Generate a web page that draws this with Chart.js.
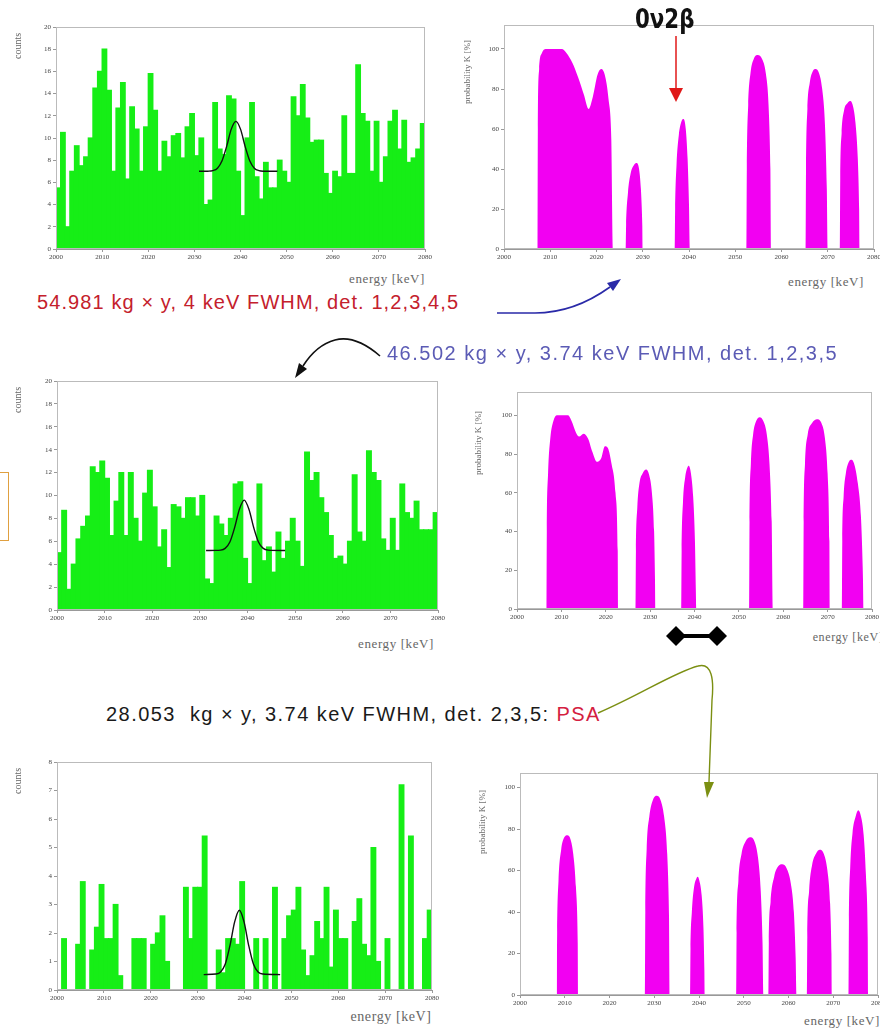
<!DOCTYPE html>
<html>
<head>
<meta charset="utf-8">
<script src="https://cdn.jsdelivr.net/npm/chart.js@4"></script>
<style>
body { margin:0; background:#fff; width:880px; height:1029px; overflow:hidden; position:relative; font-family:"Liberation Sans", Arial, sans-serif; }
canvas { position:absolute; }
.t { position:absolute; white-space:nowrap; }
.ax { position:absolute; white-space:nowrap; font-family:"Liberation Serif", serif; color:#666; transform:translate(-50%,-50%); }
.en { font-size:13px; letter-spacing:0.6px; }
.rot { transform:translate(-50%,-50%) rotate(-90deg); }
.note { position:absolute; white-space:nowrap; font-size:20px; letter-spacing:1.1px; }
</style>
</head>
<body>
<canvas id="h1"></canvas>
<canvas id="k1"></canvas>
<canvas id="h2"></canvas>
<canvas id="k2"></canvas>
<canvas id="h3"></canvas>
<canvas id="k3"></canvas>

<div class="ax rot" style="left:17px;top:46px;font-size:10px">counts</div>
<div class="ax rot" style="left:17px;top:400px;font-size:10px">counts</div>
<div class="ax rot" style="left:17px;top:781px;font-size:10px">counts</div>
<div class="ax rot" style="left:467px;top:72px;font-size:9px">probability K [%]</div>
<div class="ax rot" style="left:478px;top:443px;font-size:9px">probability K [%]</div>
<div class="ax rot" style="left:482px;top:822px;font-size:9px">probability K [%]</div>
<div class="ax en" style="left:387px;top:279px">energy [keV]</div>
<div class="ax en" style="left:826px;top:282px">energy [keV]</div>
<div class="ax en" style="left:396px;top:644px">energy [keV]</div>
<div class="ax en" style="left:848px;top:637px;font-size:12px">energy [keV]</div>
<div class="ax en" style="left:391px;top:1017px;font-size:14px">energy [keV]</div>
<div class="ax en" style="left:842px;top:1021px">energy [keV]</div>

<div class="t" style="left:635px;top:4px;font:bold 26px 'DejaVu Sans';color:#111;transform:scaleX(0.82);transform-origin:left top">0ν2β</div>
<div class="note" style="left:37px;top:291px;color:#c4202c">54.981 kg × y, 4 keV FWHM, det. 1,2,3,4,5</div>
<div class="note" style="left:387px;top:342px;color:#5b5bb5;letter-spacing:1.5px">46.502 kg × y, 3.74 keV FWHM, det. 1,2,3,5</div>
<div class="note" style="left:106px;top:703px;color:#1a1a1a;letter-spacing:1.45px">28.053&nbsp; kg × y, 3.74 keV FWHM, det. 2,3,5: <span style="color:#d42040">PSA</span></div>
<div style="position:absolute;left:0;top:472px;width:8px;height:67px;border:1.5px solid #e0a040;border-left:none"></div>

<svg width="880" height="1029" style="position:absolute;left:0;top:0;pointer-events:none">
  <line x1="676" y1="36" x2="676" y2="90" stroke="#e01818" stroke-width="1.5"/>
  <polygon points="669,88 683,88 676,102" fill="#e01818"/>
  <path d="M497,313 L535,313 C560,313 585,305 610,287" stroke="#2a2aa8" stroke-width="1.6" fill="none"/>
  <polygon points="621,279 613,291 607,283" fill="#2a2aa8"/>
  <path d="M380,356 C365,343 350,336 335,340 C320,344 310,355 303,366" stroke="#111" stroke-width="1.6" fill="none"/>
  <polygon points="295,378 307,369 299,363" fill="#111"/>
  <path d="M598,713 C640,695 675,672 698,666 C712,662 714,680 712,700 L709,782" stroke="#7b8f12" stroke-width="1.4" fill="none"/>
  <polygon points="704,782 714,782 707,798" fill="#7b8f12"/>
  <line x1="676" y1="636" x2="717" y2="636" stroke="#000" stroke-width="4"/>
  <polygon points="666,636 676,626 686,636 676,646" fill="#000"/>
  <polygon points="707,636 717,626 727,636 717,646" fill="#000"/>
</svg>

<script>
// energy binning of the spectra (1 keV bins, 2000..2080 keV)
var eStart = 2000;
var eEnd = 2080;
var tickE = [2000, 2010, 2020, 2030, 2040, 2050, 2060, 2070, 2080];

// spectrum counts per bin, 54.981 kg y
var counts1 = [5.5, 10.5, 2, 7, 9.3, 7.5, 8.3, 10, 14.5, 16,
  18, 14.3, 7, 12.7, 15, 6.3, 12.8, 10.8, 7, 11,
  15.8, 12.5, 7, 9.7, 8.3, 10.2, 10.4, 8.2, 11, 12.2,
  8.4, 10, 4, 4.4, 13.2, 9, 8.5, 13.8, 13.5, 7,
  3, 10, 13.2, 6.5, 4.5, 7.8, 5.5, 5.5, 8, 7,
  6, 13.7, 12, 14.8, 11.8, 9.6, 9.8, 9.8, 6.8, 5,
  7, 6.5, 12, 6.8, 6.8, 16.6, 12.2, 11.5, 7, 11.5,
  6, 8.3, 11.5, 12.5, 9, 11.6, 7.8, 8.2, 9, 11.3];
// 46.502 kg y
var counts2 = [5, 8.7, 1.8, 4, 6.2, 7.3, 8.2, 12.5, 12, 13,
  11.5, 6.5, 9.5, 12, 6.5, 12, 8, 6, 10.2, 12.2,
  9, 5.5, 7, 3.7, 9.2, 9, 8, 9.8, 9.8, 8.2,
  10, 2.7, 2.3, 8.2, 7.5, 6.5, 8, 11, 11.2, 4.5,
  2.3, 6, 11, 4.3, 5.5, 3.3, 6.8, 4.5, 6, 8,
  6, 3.8, 13.8, 11.3, 12, 9.8, 8.5, 6.5, 4.5, 4.7,
  4, 6, 11.8, 6.8, 6, 13.9, 12, 11.3, 6.2, 5.2,
  8, 5.2, 11, 8.5, 8, 9.5, 7, 7, 7, 8.5];
// 28.053 kg y, PSA
var counts3 = [0, 1.8, 0, 0, 1.6, 3.8, 0, 1.4, 2.2, 3.7,
  1.8, 1.8, 3.0, 0.5, 0, 0, 1.8, 1.8, 1.8, 0,
  1.6, 2, 2.6, 1, 0, 0, 0, 3.6, 1.8, 3.6,
  3.6, 5.4, 0, 0, 1.4, 0.6, 1.8, 1.8, 1.6, 3.8,
  0, 0, 1.8, 0, 1.8, 0, 3.6, 0, 1.8, 2.6,
  2.8, 3.6, 1.4, 0.5, 1.2, 2.4, 1.8, 3.6, 0.8, 2.8,
  1.8, 1.8, 0, 2.4, 3.2, 1.6, 1.2, 5, 1, 0,
  1.8, 0, 0, 7.2, 0, 5.4, 0, 0, 1.8, 2.8];

// fitted line (background + peak)
var fitE1 = [2031, 2033, 2034, 2035, 2036, 2037, 2038, 2039, 2040, 2041, 2042, 2043, 2044, 2045, 2048];
var fitC1 = [7, 7.01, 7.06, 7.28, 7.95, 9.25, 10.8, 11.5, 10.8, 9.25, 7.95, 7.28, 7.06, 7.01, 7];
var fitE2 = [2031.3, 2033.3, 2034.3, 2035.3, 2036.3, 2037.3, 2038.3, 2039.3, 2040.3, 2041.3, 2042.3, 2043.3, 2044.3, 2047.9];
var fitC2 = [5.2, 5.21, 5.23, 5.38, 5.94, 7.2, 8.8, 9.6, 8.8, 7.2, 5.94, 5.38, 5.23, 5.2];
var fitE3 = [2031.3, 2033.9, 2034.9, 2035.9, 2036.9, 2037.9, 2038.9, 2039.9, 2040.9, 2041.9, 2042.9, 2043.9, 2047.6];
var fitC3 = [0.54, 0.56, 0.63, 0.91, 1.56, 2.39, 2.8, 2.39, 1.56, 0.91, 0.63, 0.56, 0.54];

// probability K [%] vs energy
var probE1 = [2007.2, 2007.3, 2007.6, 2008.2, 2009, 2012.5, 2013.5, 2014.8, 2016, 2017.3, 2018.3, 2019.2, 2020.2, 2021, 2021.8, 2022.6, 2023.2, 2023.6,
  2026.3, 2026.4, 2026.8, 2027.4, 2028.1, 2028.6, 2029.2, 2029.6, 2029.9, 2030.0,
  2036.9, 2037.0, 2037.3, 2037.8, 2038.4, 2038.8, 2039.3, 2039.7, 2040.0, 2040.2,
  2052.4, 2052.5, 2052.8, 2053.3, 2054.0, 2054.9, 2055.8, 2056.6, 2057.2, 2057.6, 2057.8,
  2065.2, 2065.3, 2065.6, 2066.1, 2066.8, 2067.4, 2068.1, 2068.8, 2069.4, 2069.8, 2070.0,
  2072.6, 2072.7, 2073.0, 2073.5, 2074.3, 2074.9, 2075.5, 2076.0, 2076.5, 2076.8, 2076.9];
var probK1 = [0, 60, 90, 98, 100, 100, 98, 93, 86, 77, 70, 76, 87, 90, 87, 75, 55, 0,
  0, 12, 28, 38, 42, 43, 40, 30, 12, 0,
  0, 20, 42, 57, 64, 65, 60, 45, 22, 0,
  0, 40, 72, 88, 95, 97, 95, 88, 72, 40, 0,
  0, 40, 70, 83, 89, 90, 88, 80, 62, 30, 0,
  0, 35, 58, 69, 73, 74, 71, 63, 45, 20, 0];

var probE2 = [2006.6, 2006.7, 2007.0, 2007.5, 2008.2, 2009, 2011.5, 2012.3, 2013.3, 2014.0, 2015, 2016, 2017, 2018, 2019, 2019.8, 2020.5, 2021.3, 2022.2, 2022.7, 2022.8,
  2026.7, 2026.8, 2027.1, 2027.6, 2028.3, 2029.1, 2029.8, 2030.4, 2030.9, 2031.1, 2031.2,
  2037.0, 2037.1, 2037.4, 2037.9, 2038.4, 2038.7, 2039.2, 2039.7, 2040.1, 2040.3, 2040.4,
  2052.3, 2052.4, 2052.7, 2053.2, 2053.9, 2054.7, 2055.5, 2056.3, 2056.9, 2057.4, 2057.7,
  2064.5, 2064.6, 2064.9, 2065.5, 2066.5, 2067.6, 2068.6, 2069.4, 2070.0, 2070.4, 2070.5,
  2073.2, 2073.3, 2073.6, 2074.1, 2074.8, 2075.4, 2076.1, 2076.8, 2077.5, 2077.9, 2078.1];
var probK2 = [0, 40, 70, 88, 97, 100, 100, 97, 91, 89, 90.5, 88, 81, 76, 78, 84, 83, 75, 60, 30, 0,
  0, 30, 52, 65, 70, 72, 69, 60, 40, 15, 0,
  0, 30, 55, 68, 73, 74, 70, 58, 35, 10, 0,
  0, 45, 75, 90, 97, 99, 97, 90, 75, 45, 0,
  0, 45, 75, 90, 96, 98, 96, 88, 70, 35, 0,
  0, 35, 58, 70, 76, 77, 74, 65, 48, 22, 0];

var probE3 = [2008.2, 2008.3, 2008.6, 2009.2, 2009.9, 2010.6, 2011.3, 2011.9, 2012.5, 2012.9, 2013.0,
  2027.9, 2028.0, 2028.3, 2028.9, 2029.7, 2030.6, 2031.4, 2032.2, 2032.9, 2033.3, 2033.5,
  2038.0, 2038.1, 2038.4, 2038.9, 2039.4, 2039.7, 2040.1, 2040.6, 2041.0, 2041.2, 2041.3,
  2048.3, 2048.4, 2048.8, 2049.5, 2050.4, 2051.4, 2052.4, 2053.2, 2053.8, 2054.2, 2054.4,
  2055.5, 2055.6, 2056.0, 2056.8, 2057.7, 2058.6, 2059.6, 2060.5, 2061.2, 2061.6, 2061.8,
  2064.1, 2064.2, 2064.6, 2065.3, 2066.1, 2067.0, 2067.9, 2068.7, 2069.3, 2069.6, 2069.7,
  2073.4, 2073.5, 2073.8, 2074.3, 2075.0, 2075.6, 2076.2, 2076.8, 2077.3, 2077.7, 2077.8];
var probK3 = [0, 30, 55, 70, 76, 77, 75, 68, 52, 25, 0,
  0, 40, 70, 86, 94, 96, 94, 86, 68, 38, 0,
  0, 22, 40, 52, 56, 57, 55, 48, 32, 12, 0,
  0, 30, 55, 68, 74, 76, 74, 66, 50, 25, 0,
  0, 25, 45, 57, 62, 63, 61, 54, 40, 18, 0,
  0, 28, 50, 63, 68, 70, 68, 60, 44, 20, 0,
  0, 35, 62, 78, 86, 89, 86, 77, 58, 28, 0];

var YW = 36, PT = 8, PR = 14, XH = 18;

var framePlugin = {
  id: 'frame',
  afterDatasetsDraw: function (chart) {
    var a = chart.chartArea, c = chart.ctx;
    c.save();
    c.strokeStyle = '#bbb';
    c.lineWidth = 1;
    c.strokeRect(a.left + 0.5, a.top + 0.5, a.width - 1, a.height - 1);
    c.restore();
  }
};

function placeCanvas(id, box) {
  var cv = document.getElementById(id);
  cv.width = (box[2] - box[0]) + YW + PR;
  cv.height = (box[3] - box[1]) + PT + XH;
  cv.style.left = (box[0] - YW) + 'px';
  cv.style.top = (box[1] - PT) + 'px';
  return cv;
}

function axes(yMax, yStep, yLimit) {
  var tickFont = { family: 'Liberation Serif', size: 7 };
  return {
    x: {
      type: 'linear', min: eStart, max: eEnd, offset: false,
      afterBuildTicks: function (s) { s.ticks = tickE.map(function (v) { return { value: v }; }); },
      ticks: { font: tickFont, color: '#444', maxRotation: 0, autoSkip: false, padding: 1,
        callback: function (v) { return String(v); } },
      grid: { drawOnChartArea: false, tickLength: 3, color: '#999', offset: false },
      border: { color: '#999' },
      afterFit: function (s) { s.height = XH; s.paddingLeft = 0; s.paddingRight = 0; }
    },
    y: {
      min: 0, max: yMax,
      afterBuildTicks: function (s) { s.ticks = s.ticks.filter(function (t) { return t.value <= yLimit + 1e-9; }); },
      ticks: { stepSize: yStep, font: tickFont, color: '#444', padding: 2 },
      grid: { drawOnChartArea: false, tickLength: 3, color: '#999' },
      border: { color: '#999' },
      afterFit: function (s) { s.width = YW; s.paddingTop = 0; s.paddingBottom = 0; }
    }
  };
}

function histChart(id, box, counts, fitE, fitC, yMax, yStep) {
  var cv = placeCanvas(id, box);
  new Chart(cv.getContext('2d'), {
    data: {
      datasets: [{
        type: 'line',
        data: fitE.map(function (e, i) { return { x: e, y: fitC[i] }; }),
        borderColor: '#111', borderWidth: 1.4, pointRadius: 0,
        cubicInterpolationMode: 'monotone', fill: false, order: 0
      }, {
        type: 'bar',
        data: counts.map(function (c, i) { return { x: eStart + i + 0.5, y: c }; }),
        backgroundColor: '#16ee16', borderColor: '#16ee16', borderWidth: 0,
        barPercentage: 1, categoryPercentage: 1, inflateAmount: 0.6, order: 1
      }]
    },
    options: {
      responsive: false, animation: false,
      layout: { padding: { top: PT, right: PR, left: 0, bottom: 0 } },
      plugins: { legend: { display: false }, tooltip: { enabled: false } },
      scales: axes(yMax, yStep, yMax)
    },
    plugins: [framePlugin]
  });
}

function probChart(id, box, probE, probK, yMax) {
  var cv = placeCanvas(id, box);
  new Chart(cv.getContext('2d'), {
    type: 'line',
    data: {
      datasets: [{
        data: probE.map(function (e, i) { return { x: e, y: probK[i] }; }),
        borderWidth: 0, borderColor: 'rgba(0,0,0,0)', backgroundColor: '#f200f2',
        pointRadius: 0, fill: 'origin', cubicInterpolationMode: 'monotone'
      }]
    },
    options: {
      responsive: false, animation: false,
      layout: { padding: { top: PT, right: PR, left: 0, bottom: 0 } },
      plugins: { legend: { display: false }, tooltip: { enabled: false } },
      scales: axes(yMax, 20, 100)
    },
    plugins: [framePlugin]
  });
}

histChart('h1', [56, 27, 425, 249], counts1, fitE1, fitC1, 20, 2);
probChart('k1', [504, 25, 874, 249], probE1, probK1, 112);
histChart('h2', [57, 381, 438, 610], counts2, fitE2, fitC2, 20, 2);
probChart('k2', [517, 392, 872, 609], probE2, probK2, 112);
histChart('h3', [57, 762, 432, 990], counts3, fitE3, fitC3, 8, 1);
probChart('k3', [520, 773, 878, 995], probE3, probK3, 107);
</script>
</body>
</html>
